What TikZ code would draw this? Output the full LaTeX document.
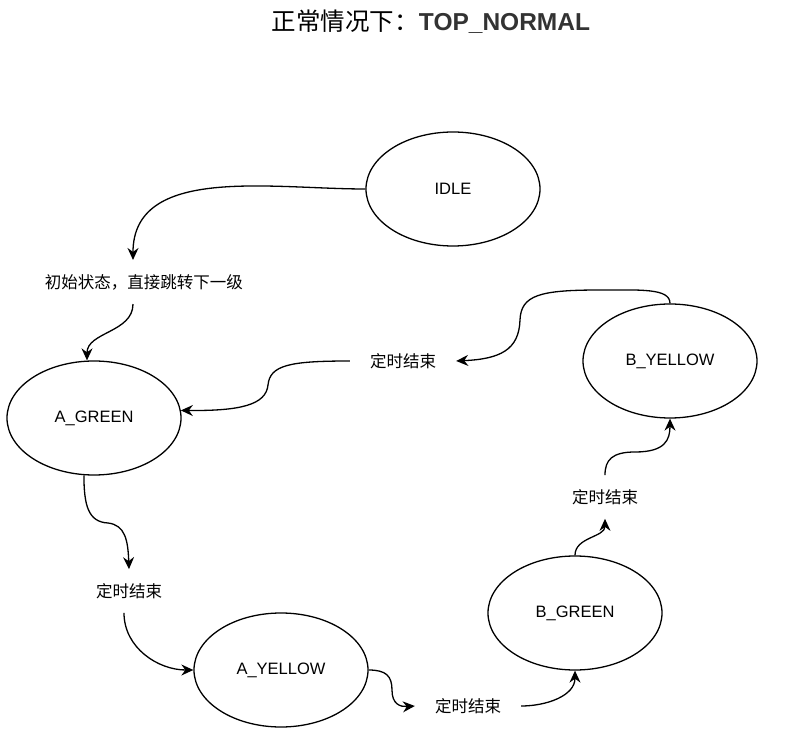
\documentclass[tikz,border=0pt]{standalone}
\usepackage{fontspec}
\setmainfont{Liberation Sans}
\newfontfamily\cjk{Noto Sans CJK SC}
\usetikzlibrary{shapes.geometric,arrows.meta}
\definecolor{titlegray}{HTML}{333333}
\tikzset{
    state/.style ={
        shape=ellipse,
        draw=black,
        line width=1.3pt,
        minimum width=174pt,
        minimum height=114pt,
        inner sep=0pt,
        font=\fontsize{16.5}{18}\selectfont
    },
    cond/.style ={
        inner xsep=20pt,
        inner ysep=14pt,
        font=\cjk\fontsize{16.5}{18}\selectfont
    },
    trans/.style ={
        line width=1.3pt,
        -{Stealth[length=12pt,width=11pt,inset=4pt]}
    }
}

\begin{document}
\begin{tikzpicture}[x=1pt,y=1pt]
    \useasboundingbox (0,0) rectangle (788,-751);
    \node (title) at (431,-22) {{\cjk\fontsize{24.5}{28}\selectfont 正常情况下：}{\fontsize{24.5}{28}\selectfont\bfseries\color{titlegray}TOP\_NORMAL}};
    \node[state] (idle) at (453,-189) {IDLE};
    \node[state] (agreen) at (94,-418) {A\_GREEN};
    \node[state] (ayellow) at (281,-670) {A\_YELLOW};
    \node[state] (bgreen) at (575,-613) {B\_GREEN};
    \node[state] (byellow) at (670,-361) {B\_YELLOW};
    \node[cond] (init) at (144,-282) {初始状态，直接跳转下一级};
    \node[cond] (ta) at (129,-591) {定时结束};
    \node[cond] (tay) at (468,-706) {定时结束};
    \node[cond] (tb) at (605,-497) {定时结束};
    \node[cond] (tby) at (403,-361) {定时结束};
    \draw[trans] (idle.west) to[out=180,in=90] ([xshift=-11pt]init.north);
    \draw[trans] ([xshift=-11pt]init.south) to[out=-90,in=90] ([xshift=-7pt]agreen.north);
    \draw[trans] (agreen.260) .. controls (84,-505) and (88,-522) .. (108,-523) .. controls (125,-525) and (128,-540) .. (ta.north);
    \draw[trans] ([xshift=-5pt]ta.south) to[out=-90,in=180] (ayellow.west);
    \draw[trans] (ayellow.east) .. controls (386,-670) and (392,-676) .. (392,-690) .. controls (392,-704) and (400,-707) .. (tay.west);
    \draw[trans] (tay.east) to[out=0,in=-90] (bgreen.south);
    \draw[trans] (bgreen.north) to[out=90,in=-90] (tb.south);
    \draw[trans] (tb.north) .. controls (605,-460) and (612,-452) .. (635,-452) .. controls (665,-452) and (670,-440) .. (byellow.south);
    \draw[trans] (byellow.north) .. controls (670,-288) and (640,-290) .. (600,-290) .. controls (540,-290) and (521,-295) .. (520,-320) .. controls (519,-350) and (500,-359) .. (tby.east);
    \draw[trans] (tby.west) .. controls (290,-361) and (270,-365) .. (268,-385) .. controls (266,-405) and (240,-411) .. (agreen.5);
\end{tikzpicture}
\end{document}
